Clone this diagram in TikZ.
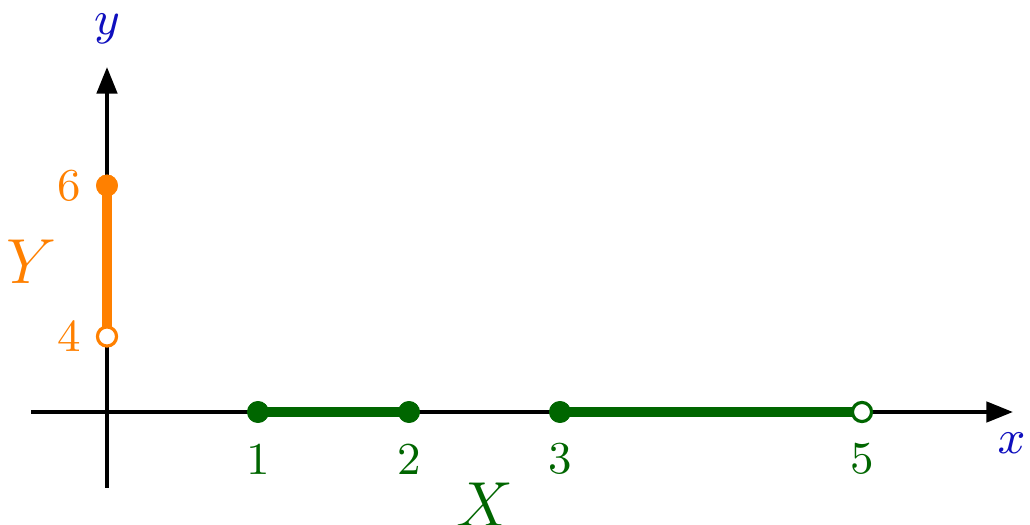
\documentclass[tikz,border=0pt]{standalone}
\usetikzlibrary{arrows.meta}
\definecolor{dgreen}{RGB}{0,102,0}
\definecolor{orng}{RGB}{255,128,0}
\definecolor{lblue}{RGB}{15,15,190}
\begin{document}
\begin{tikzpicture}[
  axis/.style={line width=0.75pt,-{Triangle[length=5pt,width=3.8pt]}},
  seg/.style={line width=2pt},
  closeddot/.style={circle,fill,inner sep=0pt,minimum size=4.1pt},
  opendot/.style={circle,draw=#1,fill=white,line width=0.6pt,inner sep=0pt,minimum size=3.6pt},
  tick/.style={font=\fontsize{8.6}{10}\selectfont,inner sep=0pt},
  big/.style={font=\fontsize{11.6}{13}\selectfont,inner sep=0pt},
  axlab/.style={font=\fontsize{9.4}{11}\selectfont,inner sep=0pt,text=lblue}
]
\useasboundingbox (-0.7086,-0.7417) rectangle (6.1126,2.7285);
% axes
\coordinate (xs) at (-0.5,0);
\coordinate (xe) at (6,0);
\coordinate (ys) at (0,-0.5);
\coordinate (ye) at (0,2.285);
\draw[axis] (xs) -- (xe);
\draw[axis] (ys) -- (ye);
\node[axlab] (xl) at (5.99,-0.21) {$x$};
\node[axlab] (yl) at (0,2.535) {$y$};
% X set
\node[closeddot,dgreen] (p1) at (1,0) {};
\node[closeddot,dgreen] (p2) at (2,0) {};
\node[closeddot,dgreen] (p3) at (3,0) {};
\coordinate (p5c) at (5,0);
\draw[seg,dgreen] (p1.center) -- (p2.center);
\draw[seg,dgreen] (p3.center) -- (p5c);
\node[opendot=dgreen] (p5) at (p5c) {};
\node[closeddot,dgreen] at (p1) {};
\node[closeddot,dgreen] at (p2) {};
\node[closeddot,dgreen] at (p3) {};
\node[tick,text=dgreen] (l1) at (1,-0.31) {1};
\node[tick,text=dgreen] (l2) at (2,-0.31) {2};
\node[tick,text=dgreen] (l3) at (3,-0.31) {3};
\node[tick,text=dgreen] (l5) at (5,-0.31) {5};
\node[big,text=dgreen] (X) at (2.503,-0.615) {$X$};
% Y set
\coordinate (q4c) at (0,0.5);
\node[closeddot,orng] (q6) at (0,1.5) {};
\draw[seg,orng] (q4c) -- (q6.center);
\node[opendot=orng] (q4) at (q4c) {};
\node[closeddot,orng] at (q6) {};
\node[tick,text=orng] (l4) at (-0.25,0.5) {4};
\node[tick,text=orng] (l6) at (-0.25,1.5) {6};
\node[big,text=orng] (Y) at (-0.5,0.993) {$Y$};
\end{tikzpicture}
\end{document}
